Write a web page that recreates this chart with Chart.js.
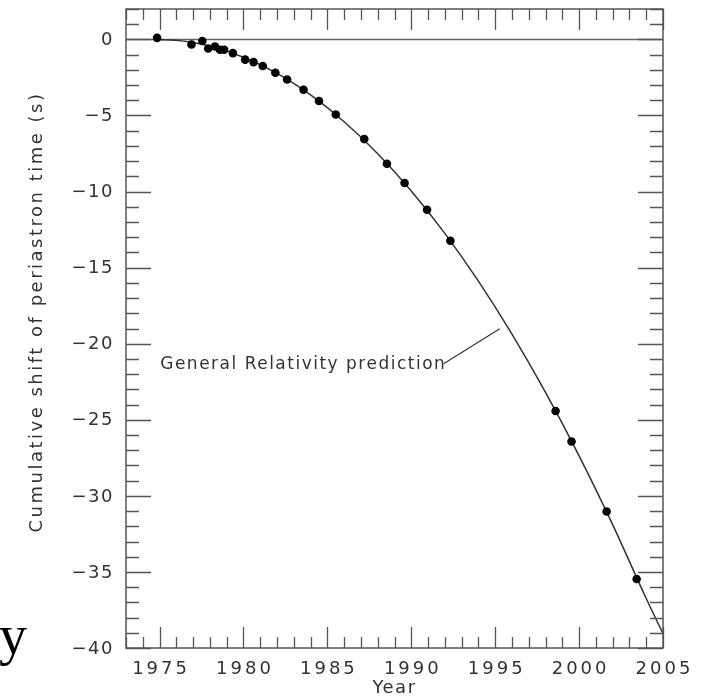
<!DOCTYPE html>
<html>
<head>
<meta charset="utf-8">
<script src="https://cdn.jsdelivr.net/npm/chart.js@4.4.0/dist/chart.umd.min.js"></script>
<style>
html, body { margin: 0; padding: 0; background: #fff; }
canvas { display: block; }
</style>
</head>
<body>
<canvas id="periastron_Chart" width="707" height="698"></canvas>
<script>
// observed cumulative shift of periastron time (PSR B1913+16)
var obsYears = [1974.85, 1976.9, 1977.55, 1977.9, 1978.3, 1978.6, 1978.85, 1979.37, 1980.1, 1980.6,
    1981.15, 1981.9, 1982.6, 1983.58, 1984.5, 1985.5, 1987.2, 1988.55, 1989.6, 1990.94,
    1992.33, 1998.6, 1999.55, 2001.64, 2003.43];
var obsShift = [0.1, -0.33, -0.1, -0.6, -0.46, -0.68, -0.68, -0.9, -1.33, -1.49,
    -1.75, -2.19, -2.63, -3.31, -4.05, -4.93, -6.55, -8.17, -9.44, -11.19,
    -13.23, -24.42, -26.43, -31.03, -35.46];

// general relativity prediction curve
var grYears = [1974.8, 1976, 1978, 1980, 1982, 1984, 1986, 1988, 1990, 1992,
    1994, 1996, 1998, 2000, 2002, 2004, 2005];
var grShift = [0, -0.06, -0.44, -1.17, -2.23, -3.65, -5.41, -7.51, -9.96, -12.75,
    -15.89, -19.37, -23.2, -27.37, -31.89, -36.75, -39.05];

var xTickValues = [1975, 1980, 1985, 1990, 1995, 2000, 2005];
var xTickLabels = ['1975', '1980', '1985', '1990', '1995', '2000', '2005'];
var yTickValues = [0, -5, -10, -15, -20, -25, -30, -35, -40];
var yTickLabels = ['0', '\u22125', '\u221210', '\u221215', '\u221220', '\u221225', '\u221230', '\u221235', '\u221240'];

var grLabel = 'General Relativity prediction';
var xTitle = 'Year';
var yTitle = 'Cumulative shift of periastron time (s)';

function pts(xs, ys) {
    return xs.map(function(x, i) { return {x: x, y: ys[i]}; });
}

var txtColor = '#333';
var lineColor = '#555';

const framePlugin = {
    id: 'framePlugin',
    beforeDatasetsDraw: function(chart) {
        const ctx = chart.ctx, a = chart.chartArea, ys = chart.scales.y;
        ctx.save();
        ctx.strokeStyle = '#666';
        ctx.lineWidth = 1.3;
        const y0 = Math.round(ys.getPixelForValue(0)) + 0.5;
        ctx.beginPath();
        ctx.moveTo(a.left, y0);
        ctx.lineTo(a.right, y0);
        ctx.stroke();
        ctx.restore();
    },
    afterDatasetsDraw: function(chart) {
        const ctx = chart.ctx, a = chart.chartArea;
        const xs = chart.scales.x, ys = chart.scales.y;
        ctx.save();
        ctx.strokeStyle = lineColor;
        ctx.lineWidth = 1.5;
        ctx.strokeRect(a.left, a.top, a.right - a.left, a.bottom - a.top);

        // inside ticks, all four sides
        ctx.lineWidth = 1.3;
        ctx.beginPath();
        for (var v = Math.ceil(xs.min); v <= xs.max; v++) {
            var px = Math.round(xs.getPixelForValue(v)) + 0.5;
            var len = (v % 5 === 0) ? 21 : 11;
            ctx.moveTo(px, a.bottom); ctx.lineTo(px, a.bottom - len);
            ctx.moveTo(px, a.top); ctx.lineTo(px, a.top + len);
        }
        for (var w = Math.ceil(ys.min); w <= ys.max; w++) {
            var py = Math.round(ys.getPixelForValue(w)) + 0.5;
            var ln = (w % 5 === 0) ? 25 : 13;
            ctx.moveTo(a.left, py); ctx.lineTo(a.left + ln, py);
            ctx.moveTo(a.right, py); ctx.lineTo(a.right - ln, py);
        }
        ctx.stroke();

        // tick labels
        ctx.fillStyle = txtColor;
        ctx.font = '18px "DejaVu Sans"';
        ctx.textBaseline = 'middle';
        ctx.textAlign = 'center';
        ctx.letterSpacing = '3px';
        xTickValues.forEach(function(v, i) {
            ctx.fillText(xTickLabels[i], xs.getPixelForValue(v) + 1.5, a.bottom + 21);
        });
        ctx.letterSpacing = '1.5px';
        ctx.textAlign = 'right';
        yTickValues.forEach(function(v, i) {
            ctx.fillText(yTickLabels[i], a.left - 12, ys.getPixelForValue(v) + 1);
        });

        // axis titles
        ctx.textAlign = 'center';
        ctx.letterSpacing = '1.5px';
        ctx.fillText(xTitle, (a.left + a.right) / 2, 688);
        ctx.save();
        ctx.translate(37, 312);
        ctx.rotate(-Math.PI / 2);
        ctx.font = '18px "DejaVu Sans"';
        ctx.letterSpacing = '2.5px';
        ctx.fillText(yTitle, 0, 0);
        ctx.restore();

        // annotation with leader line
        ctx.font = '17px "DejaVu Sans"';
        ctx.letterSpacing = '1.5px';
        ctx.textAlign = 'left';
        ctx.fillText(grLabel, xs.getPixelForValue(1975.04), ys.getPixelForValue(-21.4));
        ctx.strokeStyle = '#333';
        ctx.lineWidth = 1.2;
        ctx.beginPath();
        ctx.moveTo(xs.getPixelForValue(1991.93), ys.getPixelForValue(-21.31));
        ctx.lineTo(xs.getPixelForValue(1995.27), ys.getPixelForValue(-19.02));
        ctx.stroke();

        // stray slide letter at bottom left
        ctx.letterSpacing = '0px';
        ctx.fillStyle = '#000';
        ctx.font = '56px "Liberation Serif"';
        ctx.textBaseline = 'alphabetic';
        ctx.fillText('y', -1, 654);
        ctx.restore();
    }
};

const config_periastron = {
    type: 'scatter',
    data: {
        datasets: [{
            label: 'Observed',
            data: pts(obsYears, obsShift),
            backgroundColor: '#000',
            borderColor: '#000',
            pointStyle: 'circle',
            pointRadius: 4.3,
            pointBorderWidth: 0
        }, {
            label: grLabel,
            type: 'line',
            data: pts(grYears, grShift),
            borderColor: '#333',
            borderWidth: 1.5,
            pointRadius: 0,
            cubicInterpolationMode: 'monotone',
            fill: false
        }]
    },
    options: {
        responsive: false,
        animation: false,
        devicePixelRatio: 1,
        layout: { padding: { top: 9, right: 44, left: 0, bottom: 0 } },
        plugins: { legend: { display: false }, tooltip: { enabled: false } },
        scales: {
            x: {
                type: 'linear', min: 1973, max: 2005,
                ticks: { display: false },
                grid: { display: false },
                border: { display: false },
                afterFit: function(s) { s.height = 50; }
            },
            y: {
                type: 'linear', min: -40, max: 2,
                ticks: { display: false },
                grid: { display: false },
                border: { display: false },
                afterFit: function(s) { s.width = 126; }
            }
        }
    },
    plugins: [framePlugin]
};

const periastron_Chart = new Chart(
    document.getElementById('periastron_Chart'),
    config_periastron
);
</script>
</body>
</html>
